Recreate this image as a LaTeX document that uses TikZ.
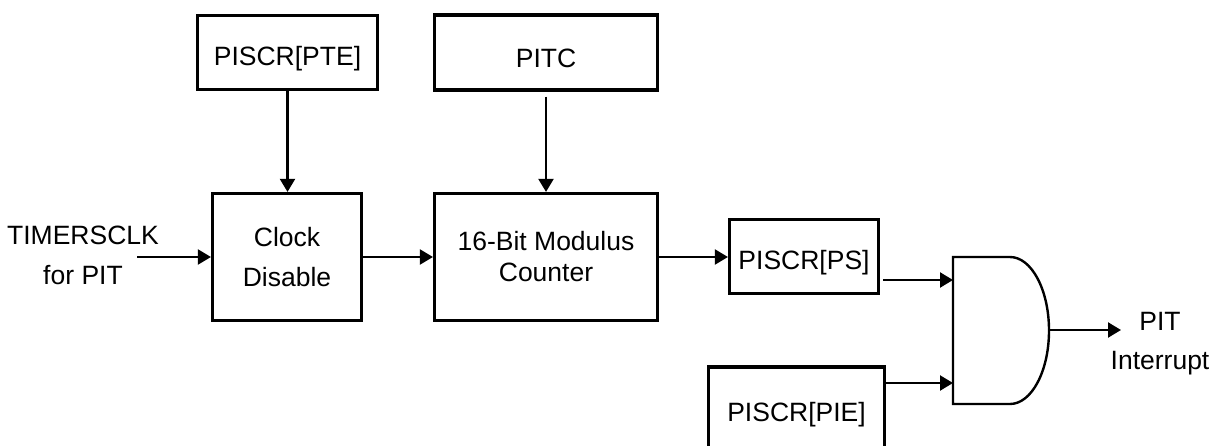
\documentclass[tikz,border=0pt]{standalone}
\usepackage{fontspec}
\setmainfont{Liberation Sans}
\usetikzlibrary{arrows.meta}
\begin{document}
\begin{tikzpicture}[x=1pt,y=1pt,
  blk/.style={draw, line width=3.2pt, inner sep=0pt, outer sep=1.6pt, font=\fontsize{26.5}{40}\selectfont, align=center},
  lbl/.style={inner sep=0pt, font=\fontsize{26.5}{40}\selectfont, align=center},
  conn/.style={line width=2.2pt, -{Triangle[length=13pt,width=15pt]}},
  gateline/.style={line width=2.4pt, line join=miter}]
\useasboundingbox (0,0) rectangle (1214,445);

% blocks
\node[blk, minimum width=180pt, minimum height=74pt, text height=27pt, text depth=0pt] (pte) at (287.5,392.5) {PISCR[PTE]};
\node[blk, minimum width=223pt, minimum height=75pt, text height=31pt, text depth=0pt] (pitc) at (546,392.5) {PITC};
\node[blk, minimum width=149pt, minimum height=127pt] (clock) at (287,188) {Clock\\Disable};
\node[blk, minimum width=223pt, minimum height=127pt, font=\fontsize{26.5}{31}\selectfont] (counter) at (546,188) {16-Bit Modulus\\Counter};
\node[blk, minimum width=149pt, minimum height=74pt, text height=26pt, text depth=0pt] (ps) at (804,188.5) {PISCR[PS]};
\node[blk, minimum width=176pt, minimum height=90pt, text height=19pt, text depth=0pt] (pie) at (796.5,33) {PISCR[PIE]};

% labels
\node[lbl] (clk) at (83,189.2) {TIMERSCLK\\for PIT};
\node[lbl, font=\fontsize{26.5}{39}\selectfont] (pit) at (1160,101.7) {PIT\\Interrupt};

% AND gate
\draw[gateline] (953,188) -- (953,41) -- (1010,41)
  arc[start angle=-90, end angle=90, x radius=39pt, y radius=73.5pt] -- cycle;
\coordinate (gin1) at (953,165);
\coordinate (gin2) at (953,62);
\coordinate (gout) at (1049,115);
\coordinate (outend) at (1121,115);
\coordinate (clkin) at (137,188);

% connectors
\draw[conn] (clkin) -- (clock.west);
\draw[conn] (pte.south) -- (pte.south |- clock.north);
\draw[conn, shorten <=5pt] (pitc.south) -- (counter.north);
\draw[conn] (clock.east) -- (counter.west);
\draw[conn] (counter.east) -- (counter.east -| ps.west);
\draw[conn, shorten <=3pt] (ps.east |- gin1) -- (gin1);
\draw[conn] (pie.east |- gin2) -- (gin2);
\draw[conn] (gout) -- (outend);
\end{tikzpicture}
\end{document}
